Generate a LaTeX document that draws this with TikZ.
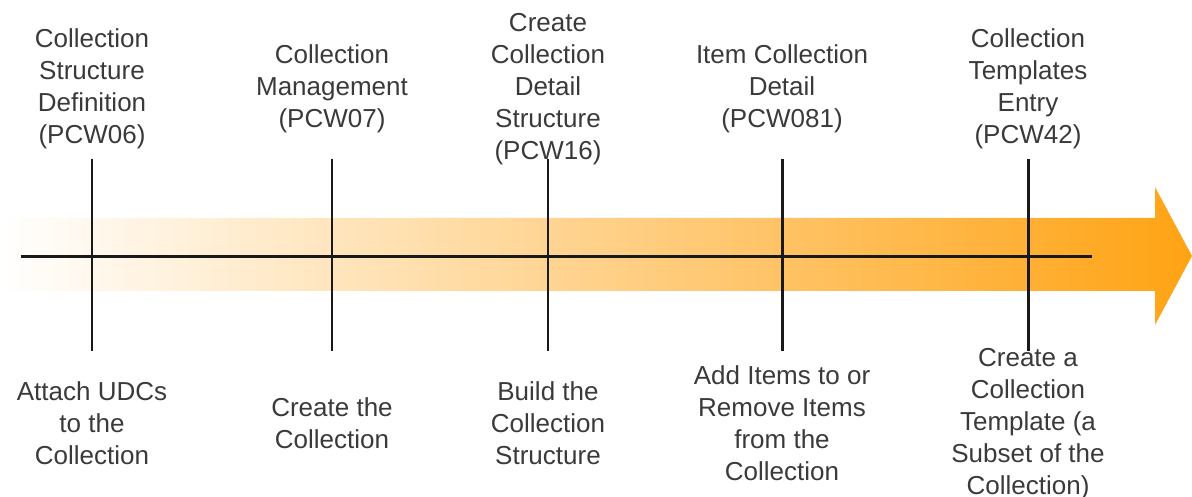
\documentclass[tikz,border=0pt]{standalone}
\usepackage{fontspec}
\setmainfont{Liberation Sans}
\usetikzlibrary{positioning}
\definecolor{arroworange}{RGB}{255,163,20}
\definecolor{labelgray}{RGB}{58,58,58}

\begin{document}
\begin{tikzpicture}[every node/.style={align=center, inner sep=0pt, text=labelgray, font=\fontsize{7.4}{9.1}\selectfont},
  tick/.style={line width=0.85pt, black!90}]
  \useasboundingbox (0,0) rectangle (11.92,4.97);
  \def\top{3.38}
  \def\bot{1.46}
  %arrow
  \shade[left color=white, right color=arroworange] (0,2.06) -- (11.55,2.06) -- (11.55,1.72) -- (11.92,2.41)
    -- (11.55,3.10) -- (11.55,2.79) -- (0,2.79) -- cycle;

  % labels
  \node (pcw06) at (0.92,4.08) {Collection\\Structure\\Definition\\(PCW06)};
  \node (pcw07) at (3.32,4.08) {Collection\\Management\\(PCW07)};
  \node (pcw16) at (5.48,4.08) {Create\\Collection\\Detail\\Structure\\(PCW16)};
  \node (pcw081) at (7.82,4.08) {Item Collection\\Detail\\(PCW081)};
  \node (pcw42) at (10.28,4.08) {Collection\\Templates\\Entry\\(PCW42)};

  \node (udc) at (0.92,0.74) {Attach UDCs\\to the\\Collection};
  \node (create) at (3.32,0.74) {Create the\\Collection};
  \node (build) at (5.48,0.74) {Build the\\Collection\\Structure};
  \node (items) at (7.82,0.74) {Add Items to or\\Remove Items\\from the\\Collection};
  \node (template) at (10.28,0.73) {Create a\\Collection\\Template (a\\Subset of the\\Collection)};

  % line
  \coordinate (start) at (0.21,2.40);
  \coordinate (end) at (10.92,2.40);
  \draw[tick] (start) -- (end);

  \foreach \name/\x in {a/0.92, b/3.32, c/5.48, d/7.82, e/10.28} {
    \coordinate (\name top) at (\x,\top);
    \coordinate (\name bot) at (\x,\bot);
    \draw[tick] (\name top) -- (\name bot);
  }
\end{tikzpicture}
\end{document}
